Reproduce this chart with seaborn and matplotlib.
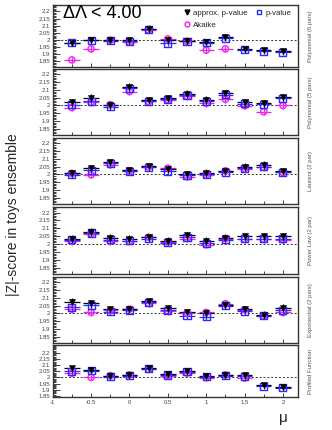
import numpy as np
import pandas as pd
import matplotlib
matplotlib.use("Agg")
import matplotlib.pyplot as plt
import seaborn as sns
from matplotlib.ticker import MultipleLocator, FixedLocator
from matplotlib.lines import Line2D

sns.set_style("ticks")
plt.rcParams['font.family'] = ['Liberation Sans', 'DejaVu Sans']

# ---------------- data ----------------
mu = [-0.75, -0.5, -0.25, 0.0, 0.25, 0.5, 0.75, 1.0, 1.25, 1.5, 1.75, 2.0]
panel_names = ["Polynomial (6 pars)", "Polynomial (5 pars)", "Laurent (2 par)",
               "Power Law (2 par)", "Exponential (2 pars)", "Profiled Function"]
series_names = ["approx. p-value", "p-value", "Akaike"]

approx_p1 = [1.980, 2.000, 1.996, 1.996, 2.080, 2.000, 1.995, 1.983, 2.019, 1.937, 1.928, 1.920]
pval_p1   = [1.979, 1.998, 1.993, 1.990, 2.075, 1.977, 1.990, 1.979, 2.012, 1.932, 1.920, 1.914]
akaike_p1 = [1.860, 1.937, 1.998, 1.984, 2.070, 2.007, 1.990, 1.928, 1.937, np.nan, np.nan, np.nan]

approx_p2 = [2.020, 2.050, 2.005, 2.120, 2.033, 2.046, 2.077, 2.037, 2.080, 2.020, 2.015, 2.055]
pval_p2   = [2.005, 2.026, 1.993, 2.110, 2.026, 2.040, 2.066, 2.028, 2.070, 2.010, 2.007, 2.046]
akaike_p2 = [1.987, 2.020, 2.005, 2.090, 2.026, 2.037, 2.060, 2.015, 2.040, 1.998, 1.960, 2.000]

approx_p3 = [2.007, 2.040, 2.078, 2.028, 2.054, 2.035, 2.002, 2.011, 2.024, 2.050, 2.063, 2.020]
pval_p3   = [1.998, 2.028, 2.072, 2.020, 2.046, 2.020, 1.996, 2.002, 2.015, 2.041, 2.050, 2.013]
akaike_p3 = [2.007, 1.998, 2.063, 2.024, 2.050, 2.041, 1.985, 1.998, 2.024, 2.037, 2.046, 2.013]

approx_p4 = [2.035, 2.078, 2.039, 2.035, 2.043, 2.022, 2.057, 2.022, 2.039, 2.048, 2.048, 2.048]
pval_p4   = [2.026, 2.070, 2.026, 2.022, 2.035, 2.009, 2.043, 2.004, 2.026, 2.035, 2.035, 2.035]
akaike_p4 = [2.017, 2.065, 2.017, 2.017, 2.043, 2.013, 2.035, 1.996, 2.035, 2.030, 2.030, 2.026]

approx_p5 = [2.076, 2.065, 2.028, 2.028, 2.080, 2.033, 2.007, 2.002, 2.054, 2.028, 1.993, 2.037]
pval_p5   = [2.041, 2.054, 2.011, 2.020, 2.072, 2.020, 1.985, 1.978, 2.050, 2.015, 1.985, 2.022]
akaike_p5 = [2.028, 2.007, 2.020, 2.028, 2.065, 2.015, 2.002, 2.007, 2.063, 2.024, 1.985, 2.007]

approx_p6 = [2.075, 2.062, 2.015, 2.020, 2.078, 2.030, 2.050, 2.015, 2.020, 2.020, 1.935, 1.925]
pval_p6   = [2.050, 2.055, 2.005, 2.015, 2.070, 2.020, 2.045, 2.005, 2.015, 2.010, 1.928, 1.915]
akaike_p6 = [2.035, 2.000, 2.015, 2.020, 2.065, 2.015, 2.035, 1.998, 2.020, 1.995, np.nan, np.nan]

x_err = 0.1
y_err = 0.022

xtick_vals = [-1, -0.5, 0, 0.5, 1, 1.5, 2]
xtick_labels = ["-1", "-0.5", "0", "0.5", "1", "1.5", "2"]
ytick_vals = [1.85, 1.9, 1.95, 2.0, 2.05, 2.1, 2.15, 2.2]
ytick_labels = ["1.85", "1.9", "1.95", "2", "2.05", "2.1", "2.15", "2.2"]

all_series = [
    (approx_p1, pval_p1, akaike_p1),
    (approx_p2, pval_p2, akaike_p2),
    (approx_p3, pval_p3, akaike_p3),
    (approx_p4, pval_p4, akaike_p4),
    (approx_p5, pval_p5, akaike_p5),
    (approx_p6, pval_p6, akaike_p6),
]

rows = []
for pname, trio in zip(panel_names, all_series):
    for sname, vals in zip(series_names, trio):
        for m, v in zip(mu, vals):
            rows.append({"panel": pname, "series": sname, "mu": m, "z": v})
df = pd.DataFrame(rows).dropna()

colors = {"approx. p-value": "#000000", "p-value": "#2a2aff", "Akaike": "#ee22ee"}
markers = {"approx. p-value": "v", "p-value": "s", "Akaike": "o"}
draw_order = ["Akaike", "p-value", "approx. p-value"]

# ---------------- figure ----------------
W, H = 332, 430
fig = plt.figure(figsize=(W / 100, H / 100), dpi=100)

left_px, right_px = 52.7, 298.3
frames = [(5, 67), (69, 135), (138, 204), (207, 274), (277, 343), (345, 397)]
ylims = [(1.81, 2.245), (1.81, 2.235), (1.81, 2.235), (1.81, 2.235), (1.81, 2.235), (1.84, 2.265)]

axes = []
for i, ((t, b), pname) in enumerate(zip(frames, panel_names)):
    ax = fig.add_axes([left_px / W, 1 - b / H, (right_px - left_px) / W, (b - t) / H])
    axes.append(ax)
    sub = df[df["panel"] == pname]
    for s in draw_order:
        d = sub[sub["series"] == s]
        ax.errorbar(d["mu"], d["z"], xerr=x_err, yerr=y_err, fmt="none",
                    ecolor=colors[s], elinewidth=0.9, capsize=0, zorder=2)
        if s == "approx. p-value":
            sns.scatterplot(data=d, x="mu", y="z", ax=ax, marker=markers[s],
                            color=colors[s], s=20, edgecolor=colors[s],
                            linewidth=0.3, zorder=4, legend=False)
        else:
            ax.scatter(d["mu"], d["z"], marker=markers[s], s=26 if s == "p-value" else 20,
                       facecolors="none", edgecolors=colors[s], linewidths=1.0, zorder=3)
    ax.axhline(2.0, color="#333333", lw=0.7, ls=(0, (2, 2)), zorder=1)
    ax.set_xlim(-1, 2.2)
    ax.set_ylim(*ylims[i])
    ax.set_xlabel("")
    ax.set_ylabel("")
    ax.yaxis.set_major_locator(FixedLocator(ytick_vals))
    ax.set_yticklabels(ytick_labels)
    ax.yaxis.set_minor_locator(MultipleLocator(0.01))
    ax.xaxis.set_major_locator(FixedLocator(xtick_vals))
    ax.xaxis.set_minor_locator(MultipleLocator(0.25))
    ax.tick_params(axis="both", which="both", direction="in", colors="#222222",
                   labelcolor="#444444", labelsize=4.3, width=0.6)
    ax.tick_params(axis="y", which="major", length=5, pad=2)
    ax.tick_params(axis="y", which="minor", length=2.5)
    ax.tick_params(axis="x", which="major", length=3, pad=2)
    ax.tick_params(axis="x", which="minor", length=2)
    if i < 5:
        ax.set_xticklabels([])
    else:
        ax.set_xticklabels(xtick_labels)
    for sp in ax.spines.values():
        sp.set_visible(True)
        sp.set_color("#333333")
        sp.set_linewidth(1.0)
    ax.text(1.05, 0.5, pname, transform=ax.transAxes, rotation=90,
            ha="center", va="center", fontsize=4.3, color="#555555")

# title-like annotation and legend in top panel
ax0 = axes[0]
ax0.text(0.04, 0.86, "ΔΛ < 4.00", transform=ax0.transAxes, fontsize=13,
         ha="left", va="center", color="black")
handles = [
    Line2D([], [], ls="none", marker="v", color="#000000", markersize=3.5),
    Line2D([], [], ls="none", marker="o", markerfacecolor="none",
           markeredgecolor="#ee22ee", markersize=3.5),
    Line2D([], [], ls="none", marker="s", markerfacecolor="none",
           markeredgecolor="#2a2aff", markersize=3.5),
]
ax0.legend(handles, ["approx. p-value", "Akaike", "p-value"], ncol=2,
           loc="upper right", bbox_to_anchor=(1.0, 1.04), frameon=False,
           fontsize=5.7, handletextpad=0.3, columnspacing=0.9,
           labelspacing=0.55, handlelength=1.0)

fig.text(0.04, 0.5, "|Z|-score in toys ensemble", rotation=90,
         ha="center", va="center", fontsize=10)
fig.text(283 / W, 1 - 418 / H, "μ", ha="center", va="center", fontsize=11)

fig.savefig("out.png", dpi=100)
